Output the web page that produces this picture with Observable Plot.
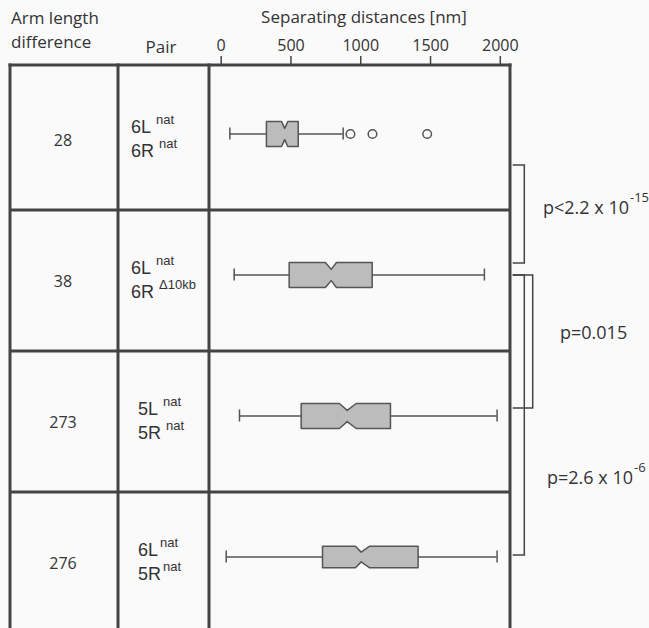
<!DOCTYPE html>
<html><head><meta charset="utf-8">
<script src="https://cdn.jsdelivr.net/npm/d3@7"></script>
<script src="https://cdn.jsdelivr.net/npm/@observablehq/plot@0.6"></script>
<style>
html,body{margin:0;padding:0;background:#fafafa;}
#chart svg{display:block;}
</style></head><body><div id="chart"></div>
<script>
// ---- data ----
const armDiff = ["28", "38", "273", "276"];
const pairTop = [["6L", "nat"], ["6L", "nat"], ["5L", "nat"], ["6L", "nat"]];
const pairBottom = [["6R", "nat"], ["6R", "\u039410kb"], ["5R", "nat"], ["5R", "nat"]];
const lowerWhisker = [62, 93, 131, 36];
const q1 = [324, 487, 573, 726];
const notchLow = [433, 747, 847, 962];
const median = [455, 788, 903, 1003];
const notchHigh = [477, 826, 967, 1064];
const q3 = [552, 1082, 1213, 1411];
const upperWhisker = [874, 1886, 1977, 1977];
const outliers = [[926, 1084, 1476], [], [], []];
const xTicks = [0, 500, 1000, 1500, 2000];
const pMain = ["p<2.2 x 10", "p=0.015", "p=2.6 x 10"];
const pExp = ["-15", "", "-6"];

// ---- layout / style constants ----
const W = 649, H = 628;
const FONT = "Open Sans";
const PAIRFONT = "Liberation Sans";
const INK = "#444";
const boxHalfPx = [12.5, 12.5, 12.5, 10.8];
const PXU = 141; // px per row unit (matches y range below)
const boxDy = -6;

const rows = armDiff.map((d, i) => i);

// notched polygons
const poly = [];
rows.forEach(i => {
  const c = i + 0.5, h = boxHalfPx[i] / PXU, n = h * 0.45;
  const pts = [
    [q1[i], c - h], [notchLow[i], c - h], [median[i], c - n], [notchHigh[i], c - h], [q3[i], c - h],
    [q3[i], c + h], [notchHigh[i], c + h], [median[i], c + n], [notchLow[i], c + h], [q1[i], c + h]
  ];
  pts.forEach(([x, y]) => poly.push({row: i, x, y}));
});
const whiskers = rows.map(i => ({row: i, lo: lowerWhisker[i], hi: upperWhisker[i]}));
const caps = rows.flatMap(i => [lowerWhisker[i], upperWhisker[i]].map(v => ({row: i, v})));
const outl = rows.flatMap(i => outliers[i].map(v => ({row: i, v})));
const capH = 6 / PXU;

function tableMark(index, scales, values, dims) {
  const y = scales.y;
  const g = d3.create("svg:g").attr("font-family", FONT).attr("fill", "#333").attr("text-anchor", "start");
  const line = (x1, y1, x2, y2, w, c) => g.append("line").attr("x1", x1).attr("y1", y1).attr("x2", x2).attr("y2", y2)
    .attr("stroke", c || INK).attr("stroke-width", w || 3);
  // frame
  line(8.5, 65, 511.5, 65);
  [10, 118, 209, 510].forEach(x => line(x, 63.5, x, H + 5));
  [1, 2, 3].forEach(r => line(10, y(r), 510, y(r)));
  // headers
  const txt = (x, yy, s, size, anchor) => g.append("text").attr("x", x).attr("y", yy)
    .attr("dy", "0.35em").attr("font-size", size || 16).attr("text-anchor", anchor || "start").text(s);
  txt(11, 18, "Arm length", 17);
  txt(11, 42, "difference", 17);
  txt(161, 47, "Pair", 17, "middle");
  txt(364, 17, "Separating distances [nm]", 17, "middle");
  // rows
  rows.forEach(i => {
    const c = y(i + 0.5);
    txt(63, c + 1, armDiff[i], 16, "middle");
    [[pairTop[i], c - 13], [pairBottom[i], c + 11]].forEach(([p, yy]) => {
      const t = g.append("text").attr("x", i < 2 ? 131 : 138).attr("y", yy).attr("dy", "0.35em")
        .attr("font-size", 18).attr("font-family", PAIRFONT).attr("text-anchor", "start");
      t.append("tspan").text(p[0]);
      t.append("tspan").attr("dx", i === 3 ? 2 : 5).attr("dy", -9).attr("font-size", 13).text(p[1]);
    });
  });
  // comparison brackets
  const br = (ya, yb, xr) => {
    g.append("path").attr("d", `M512.7,${ya}H${xr}V${yb}H512.7`).attr("fill", "none").attr("stroke", INK).attr("stroke-width", 1.5);
  };
  br(y(0.681), y(1.376), 524.3);
  br(y(1.461), y(2.404), 532.7);
  br(y(1.461), y(3.447), 524.3);
  // p-values
  const pPos = [[543, y(0.986)], [560, y(1.872)], [547, y(2.901)]];
  pMain.forEach((s, k) => {
    const t = g.append("text").attr("x", pPos[k][0]).attr("y", pPos[k][1]).attr("dy", "0.35em")
      .attr("font-size", 18).attr("text-anchor", "start");
    t.append("tspan").text(s);
    if (pExp[k]) t.append("tspan").attr("dx", 1).attr("dy", -12).attr("font-size", 13).text(pExp[k]);
  });
  return g.node();
}

const plot = Plot.plot({
  width: W, height: H,
  marginTop: 65, marginLeft: 0, marginRight: 0, marginBottom: 0,
  style: {fontFamily: FONT, fontSize: "16px", background: "#fafafa", color: "#333"},
  x: {domain: [0, 2000], range: [220.7, 499.8]},
  y: {domain: [0, 4], range: [69, 633], axis: null},
  marks: [
    tableMark,
    Plot.axisX({anchor: "top", ticks: xTicks, tickSize: 10, tickPadding: 5, fontSize: 16,
      tickFormat: d => String(d), stroke: INK, strokeWidth: 1.5, label: null}),
    Plot.ruleY(whiskers, {y: d => d.row + 0.5, x1: "lo", x2: "hi", dy: boxDy, stroke: "#555", strokeWidth: 1.5}),
    Plot.ruleX(caps, {x: "v", y1: d => d.row + 0.5 - capH, y2: d => d.row + 0.5 + capH, dy: boxDy, stroke: "#555", strokeWidth: 1.5}),
    Plot.line(poly, {x: "x", y: "y", z: "row", curve: "linear-closed", fill: "#bcbcbc", stroke: "#555", strokeWidth: 1.5, dy: boxDy}),
    Plot.dot(outl, {x: "v", y: d => d.row + 0.5, r: 4.3, stroke: "#555", strokeWidth: 1.5, fill: "none", dy: boxDy})
  ]
});
document.getElementById("chart").appendChild(plot);
</script>
</body></html>
